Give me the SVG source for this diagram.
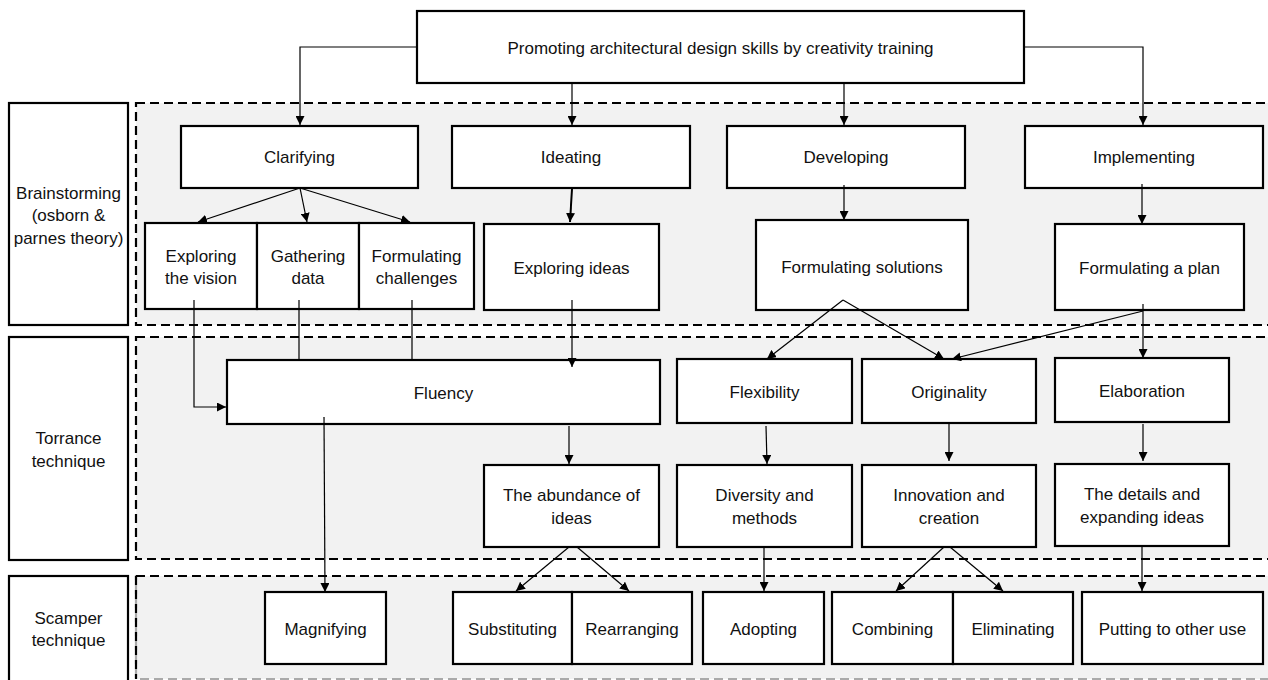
<svg xmlns="http://www.w3.org/2000/svg" width="1268" height="680" viewBox="0 0 1268 680">
<defs>
<style>
.region{fill:#f2f2f2;stroke:#000;stroke-width:2.2;stroke-dasharray:9 5}
.box{fill:#fff;stroke:#000;stroke-width:2.2}
.lab{fill:#fff;stroke:#000;stroke-width:2.2}
text{font-family:"Liberation Sans",Arial,sans-serif;font-size:17px;fill:#111;text-anchor:middle}
.con{fill:none;stroke:#000;stroke-width:1.2;marker-end:url(#ah)}
.plain{fill:none;stroke:#000;stroke-width:1.2}
</style>
<marker id="ah" viewBox="0 0 10 10" refX="10" refY="5" markerWidth="9" markerHeight="9" markerUnits="userSpaceOnUse" orient="auto">
<path d="M0,0 L10,5 L0,10 z" fill="#000"/>
</marker>
</defs>
<rect width="1268" height="680" fill="#fff"/>

<g id="regions">
<rect class="region" x="136" y="103" width="1145" height="222"/>
<rect class="region" x="136" y="337" width="1145" height="222"/>
<rect class="region" x="136" y="576" width="1145" height="103" style="stroke:#aaa"/>
<path d="M136,576 V679 M136,576 H1281" fill="none" stroke="#000" stroke-width="2.2" stroke-dasharray="9 5"/>
</g>

<g id="lab-brainstorming"><rect class="lab" x="9" y="103" width="119" height="222"/>
<text x="68.5" y="199">Brainstorming</text><text x="68.5" y="221">(osborn &amp;</text><text x="68.5" y="244">parnes theory)</text></g>
<g id="lab-torrance"><rect class="lab" x="9" y="337" width="119" height="223"/>
<text x="68.5" y="444">Torrance</text><text x="68.5" y="467">technique</text></g>
<g id="lab-scamper"><rect class="lab" x="9" y="576" width="119" height="110"/>
<text x="68.5" y="624">Scamper</text><text x="68.5" y="646">technique</text></g>

<g id="title"><rect class="box" x="417" y="11" width="607" height="72"/><text x="720.5" y="54">Promoting architectural design skills by creativity training</text></g>

<g id="clarifying"><rect class="box" x="181" y="126" width="237" height="62"/><text x="299.5" y="163">Clarifying</text></g>
<g id="ideating"><rect class="box" x="452" y="126" width="238" height="62"/><text x="571" y="163">Ideating</text></g>
<g id="developing"><rect class="box" x="727" y="126" width="238" height="62"/><text x="846" y="163">Developing</text></g>
<g id="implementing"><rect class="box" x="1025" y="126" width="238" height="62"/><text x="1144" y="163">Implementing</text></g>

<g id="exploring-vision"><rect class="box" x="145" y="223" width="112" height="86"/><text x="201" y="262">Exploring</text><text x="201" y="284">the vision</text></g>
<g id="gathering-data"><rect class="box" x="257" y="223" width="102" height="86"/><text x="308" y="262">Gathering</text><text x="308" y="284">data</text></g>
<g id="formulating-challenges"><rect class="box" x="359" y="223" width="115" height="86"/><text x="416.5" y="262">Formulating</text><text x="416.5" y="284">challenges</text></g>
<g id="exploring-ideas"><rect class="box" x="484" y="224" width="175" height="86"/><text x="571.5" y="274">Exploring ideas</text></g>
<g id="formulating-solutions"><rect class="box" x="756" y="220" width="212" height="90"/><text x="862" y="273">Formulating solutions</text></g>
<g id="formulating-plan"><rect class="box" x="1055" y="224" width="189" height="86"/><text x="1149.5" y="274">Formulating a plan</text></g>

<g id="fluency"><rect class="box" x="227" y="360" width="433" height="64"/><text x="443.5" y="399">Fluency</text></g>
<g id="flexibility"><rect class="box" x="677" y="359" width="175" height="64"/><text x="764.5" y="398">Flexibility</text></g>
<g id="originality"><rect class="box" x="862" y="359" width="174" height="64"/><text x="949" y="398">Originality</text></g>
<g id="elaboration"><rect class="box" x="1055" y="358" width="174" height="64"/><text x="1142" y="397">Elaboration</text></g>

<g id="abundance"><rect class="box" x="484" y="465" width="175" height="82"/><text x="571.5" y="501">The abundance of</text><text x="571.5" y="524">ideas</text></g>
<g id="diversity"><rect class="box" x="677" y="465" width="175" height="82"/><text x="764.5" y="501">Diversity and</text><text x="764.5" y="524">methods</text></g>
<g id="innovation"><rect class="box" x="862" y="465" width="174" height="82"/><text x="949" y="501">Innovation and</text><text x="949" y="524">creation</text></g>
<g id="details"><rect class="box" x="1055" y="464" width="174" height="82"/><text x="1142" y="500">The details and</text><text x="1142" y="523">expanding ideas</text></g>

<g id="magnifying"><rect class="box" x="265" y="592" width="121" height="72"/><text x="325.5" y="635">Magnifying</text></g>
<g id="substituting"><rect class="box" x="453" y="592" width="119" height="72"/><text x="512.5" y="635">Substituting</text></g>
<g id="rearranging"><rect class="box" x="572" y="592" width="120" height="72"/><text x="632" y="635">Rearranging</text></g>
<g id="adopting"><rect class="box" x="703" y="592" width="121" height="72"/><text x="763.5" y="635">Adopting</text></g>
<g id="combining"><rect class="box" x="832" y="592" width="121" height="72"/><text x="892.5" y="635">Combining</text></g>
<g id="eliminating"><rect class="box" x="953" y="592" width="120" height="72"/><text x="1013" y="635">Eliminating</text></g>
<g id="putting"><rect class="box" x="1082" y="592" width="181" height="72"/><text x="1172.5" y="635">Putting to other use</text></g>

<g id="connectors">
<path class="con" d="M417,47 H300 V125"/>
<path class="con" d="M572,83 V125"/>
<path class="con" d="M844,83 V125"/>
<path class="con" d="M1024,47 H1143 V125"/>
<path class="con" d="M300,188 L198,222"/>
<path class="con" d="M300,188 L307,222"/>
<path class="con" d="M300,188 L410,222"/>
<path class="con" d="M572,189 L570,222" style="stroke-width:2"/>
<path class="con" d="M844,185 V220"/>
<path class="con" d="M1142,184 V224"/>
<path class="con" d="M194,300 V407 H226"/>
<path class="plain" d="M299,300 V360 M412,300 V360"/>
<path class="con" d="M572,300 V367"/>
<path class="con" d="M843,300 L767,359"/>
<path class="con" d="M843,300 L944,359"/>
<path class="con" d="M1143,311 L952,359"/>
<path class="con" d="M1143,304 V358"/>
<path class="con" d="M324,417 L325,592"/>
<path class="con" d="M569,426 V464"/>
<path class="con" d="M766,426 L767,464"/>
<path class="con" d="M949,424 V461"/>
<path class="con" d="M1143,424 V461"/>
<path class="con" d="M569,547 L516,591"/>
<path class="con" d="M577,547 L629,591"/>
<path class="con" d="M764,547 V591"/>
<path class="con" d="M944,547 L896,591"/>
<path class="con" d="M950,547 L1003,591"/>
<path class="con" d="M1142,547 V591"/>
</g>
</svg>
